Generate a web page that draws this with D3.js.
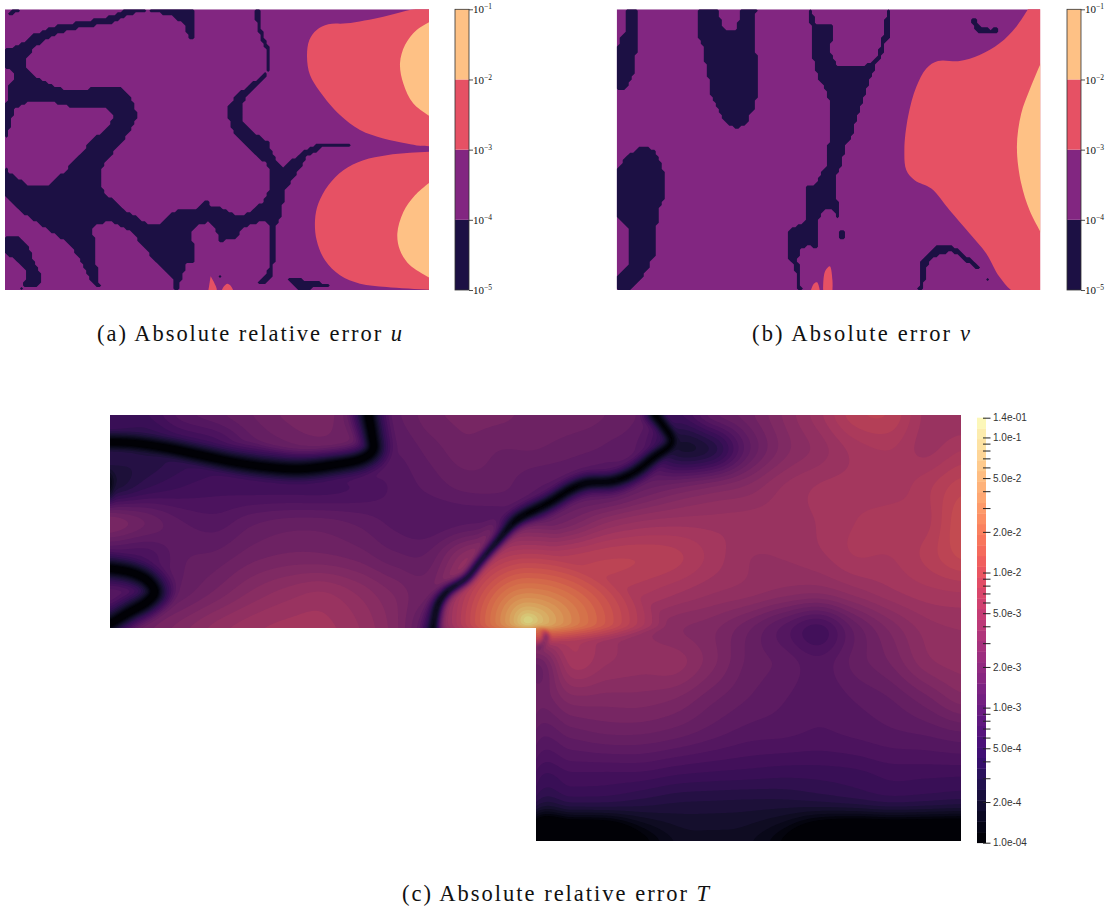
<!DOCTYPE html>
<html><head><meta charset="utf-8">
<style>html,body{margin:0;padding:0;background:#fff}svg{display:block}</style>
<script src="https://cdn.jsdelivr.net/npm/d3@7"></script></head><body>
<svg id="c" width="1117" height="911"></svg>
<script>
// ---------- discrete colour levels for panels (a) and (b)
const levelEdges = [1e-5, 1e-4, 1e-3, 1e-2, 1e-1];
const levelColors = ["#1c1044", "#822681", "#e65164", "#fec185"];
const levelTicks = [-5, -4, -3, -2, -1];

// ---------- panel (a) error-level outlines, in trace units
const aDarkOuter = [[15,145],[50,140],[100,105],[160,80],[250,65],[330,50],[380,30],[440,26],[580,26],[785,26],[785,90],[800,130],[812,170],[805,215],[790,240],[735,290],[722,325],[730,370],[770,405],[805,425],[820,470],[850,505],[900,460],[965,428],[1050,431],[1050,436],[965,442],[920,470],[885,525],[855,570],[838,660],[825,680],[825,780],[812,810],[822,825],[790,852],[765,854],[700,871],[540,871],[320,871],[290,855],[265,830],[240,770],[200,725],[150,690],[100,660],[60,630],[40,610],[13,580],[13,145]];
const aHole1 = [[80,170],[110,135],[170,100],[250,80],[330,70],[370,50],[440,30],[520,50],[555,75],[568,112],[580,112],[580,24],[762,24],[765,45],[775,90],[790,130],[805,170],[800,215],[770,240],[715,280],[685,320],[685,355],[710,410],[760,455],[800,490],[812,520],[812,560],[795,600],[750,640],[710,648],[670,625],[655,618],[640,625],[620,600],[590,625],[530,630],[480,670],[440,672],[360,620],[310,575],[298,520],[320,480],[370,420],[395,385],[412,340],[400,335],[395,290],[360,260],[300,258],[250,270],[190,268],[130,245],[80,210]];
const aHole2 = [[580,680],[625,665],[650,690],[662,730],[680,710],[705,720],[725,685],[790,658],[810,675],[812,800],[790,835],[765,856],[700,875],[540,875],[540,850],[560,785],[580,790],[578,720],[570,722]];
const aHole3 = [[13,425],[30,380],[40,330],[60,315],[100,300],[150,305],[230,322],[320,325],[340,345],[330,375],[295,405],[260,440],[235,470],[195,515],[150,553],[80,553],[30,520],[13,500]];
const aHole4 = [[275,690],[290,668],[340,665],[390,690],[420,725],[460,775],[520,840],[525,855],[510,875],[320,875],[298,850],[285,770],[285,715],[273,710]];
const aHole5 = [[13,200],[40,215],[42,240],[28,250],[28,300],[13,318]];
const aDarkExtra = [
  [[13,52],[45,26],[62,26],[50,36]],
  [[13,708],[50,708],[80,730],[100,780],[118,820],[118,855],[85,855],[55,871],[75,845],[80,815],[50,780],[13,760]],
  [[862,837],[900,838],[935,847],[970,848],[1000,860],[940,855],[925,871],[900,871],[880,855]],
  [[655,820],[668,828],[660,834]]
];
const aRedTop = [[1300,22],[1240,28],[1150,50],[1040,70],[985,73],[950,90],[928,120],[921,170],[930,225],[960,275],[1020,345],[1080,390],[1150,415],[1220,430],[1260,437],[1300,438]];
const aOrangeTop = [[1300,60],[1250,90],[1215,135],[1200,190],[1210,250],[1240,310],[1300,355]];
const aRedLow = [[1300,454],[1230,458],[1160,465],[1090,480],[1030,510],[985,555],[955,610],[945,660],[950,720],[975,780],[1020,825],[1080,850],[1160,860],[1300,869]];
const aOrangeLow = [[1300,538],[1245,585],[1210,635],[1192,700],[1200,750],[1230,795],[1300,838]];
const aRedSpots = [[[632,828],[650,871],[625,871]],[[665,871],[672,858],[682,850],[692,856],[700,871]]];

// ---------- panel (b) error-level outlines, in trace units
const bDark = [
  [[48,26],[82,26],[85,155],[70,170],[70,225],[45,265],[18,265],[18,155],[35,110],[48,100]],
  [[265,26],[328,26],[330,55],[342,90],[375,95],[390,60],[393,26],[440,26],[430,60],[430,155],[442,170],[442,290],[430,300],[430,335],[415,345],[410,370],[385,385],[345,365],[320,320],[305,290],[290,195],[280,185],[278,125],[265,110]],
  [[595,26],[600,55],[610,100],[612,180],[625,235],[650,270],[660,310],[660,430],[650,435],[650,505],[630,525],[620,553],[590,553],[585,555],[585,670],[545,685],[535,700],[535,770],[548,785],[560,815],[566,850],[566,871],[574,871],[572,810],[560,780],[572,745],[595,733],[620,748],[620,665],[640,625],[665,622],[678,640],[688,665],[688,610],[675,600],[675,540],[690,500],[710,430],[725,410],[740,350],[760,300],[775,250],[800,190],[815,170],[828,120],[842,110],[842,26],[834,26],[830,50],[820,110],[805,170],[770,197],[680,197],[660,160],[660,130],[672,125],[672,70],[690,50],[660,78],[620,75],[602,30]],
  [[18,510],[60,460],[100,437],[135,450],[150,490],[160,520],[160,605],[148,615],[148,670],[135,680],[135,770],[120,785],[120,800],[70,860],[60,871],[18,871],[18,830],[58,795],[60,690],[40,670],[18,650]],
  [[1085,55],[1097,58],[1115,86],[1150,88],[1172,80],[1158,97],[1112,98],[1092,80]],
  [[918,871],[932,850],[932,795],[945,768],[990,732],[1032,740],[1112,798],[1106,808],[1030,755],[988,758],[953,790],[948,830],[932,871]],
  [[686,683],[700,692],[702,717],[688,712]],
  [[1122,828],[1138,838],[1130,844]]
];
const bRed = [[1262,15],[1255,28],[1220,80],[1170,130],[1110,165],[1050,183],[985,183],[950,205],[920,260],[895,350],[884,450],[890,510],[915,540],[965,565],[1020,630],[1080,700],[1130,760],[1170,830],[1215,875],[1300,876],[1300,15]];
const bOrange = [[1300,175],[1290,198],[1260,270],[1235,340],[1222,440],[1235,550],[1260,630],[1290,690],[1300,710]];
const bRedSpots = [[[603,871],[612,850],[622,846],[630,871]],[[640,871],[645,815],[660,798],[668,840],[668,871]]];

// ---------- panel (c): log10 of the absolute relative error, 25 columns x 13 rows
const logErrRows = [
 [-3.3,-3.3,-3.1,-3.0,-2.9,-2.8,-2.75,-3.0,-3.0,-2.85,-2.8,-2.8,-2.85,-2.85,-2.9,-3.0,-3.3,-3.0,-2.85,-2.65,-2.45,-2.22,-2.2,-2.45,-2.5],
 [-3.4,-3.5,-3.4,-3.3,-3.05,-2.95,-2.9,-2.9,-3.05,-2.95,-2.85,-2.9,-2.9,-2.95,-3.0,-3.1,-3.6,-3.5,-3.0,-2.7,-2.55,-2.4,-2.35,-2.45,-2.35],
 [-3.6,-3.4,-3.3,-3.25,-3.25,-3.25,-3.25,-3.2,-3.12,-3.03,-2.95,-2.95,-3.05,-3.05,-3.1,-2.95,-2.85,-2.75,-2.65,-2.5,-2.42,-2.4,-2.4,-2.3,-2.15],
 [-2.75,-2.9,-3.05,-3.1,-3.0,-2.95,-2.95,-3.0,-3.08,-3.12,-3.08,-3.05,-2.95,-2.8,-2.6,-2.5,-2.47,-2.47,-2.47,-2.47,-2.42,-2.35,-2.3,-2.3,-2.05],
 [-3.2,-3.2,-3.0,-2.95,-2.85,-2.8,-2.8,-2.85,-2.95,-2.95,-2.6,-2.4,-2.3,-2.25,-2.2,-2.2,-2.25,-2.38,-2.5,-2.5,-2.45,-2.35,-2.35,-2.25,-2.1],
 [-3.1,-3.1,-2.95,-2.8,-2.65,-2.55,-2.5,-2.6,-2.75,-2.85,-2.4,-2.25,-2.2,-2.2,-2.25,-2.33,-2.42,-2.5,-2.55,-2.62,-2.65,-2.55,-2.45,-2.38,-2.35],
 [-2.95,-2.85,-2.7,-2.55,-2.45,-2.4,-2.4,-2.5,-2.7,-3.0,-2.4,-2.2,-2.2,-2.3,-2.45,-2.55,-2.65,-2.72,-2.88,-3.08,-3.25,-2.95,-2.72,-2.55,-2.5],
 [null,null,null,null,null,null,null,null,null,null,null,null,-2.9,-2.4,-2.5,-2.55,-2.55,-2.72,-2.92,-3.0,-3.1,-2.95,-2.82,-2.62,-2.55],
 [null,null,null,null,null,null,null,null,null,null,null,null,-2.85,-2.7,-2.7,-2.7,-2.75,-2.88,-2.98,-3.05,-3.12,-3.05,-2.98,-2.85,-2.7],
 [null,null,null,null,null,null,null,null,null,null,null,null,-3.0,-2.95,-2.9,-2.9,-2.95,-3.03,-3.1,-3.12,-3.15,-3.12,-3.08,-3.05,-3.0],
 [null,null,null,null,null,null,null,null,null,null,null,null,-3.2,-3.2,-3.2,-3.2,-3.25,-3.28,-3.3,-3.32,-3.32,-3.3,-3.25,-3.25,-3.25],
 [null,null,null,null,null,null,null,null,null,null,null,null,-3.5,-3.5,-3.5,-3.52,-3.55,-3.56,-3.57,-3.58,-3.58,-3.55,-3.5,-3.52,-3.55],
 [null,null,null,null,null,null,null,null,null,null,null,null,-4.6,-4.6,-4.5,-4.0,-3.75,-3.72,-3.75,-3.95,-4.4,-4.6,-4.6,-4.6,-4.6]
];
// near-zero error lines in panel (c): core width, fall-off steepness, then the line as [x, y] offsets in the domain
const zeroLineWidths = [3.5, 3, 3.5, 2.2, 1.3];
const zeroLineSteepness = [1.5, 1.6, 1.5, 1.5, 3];
const zeroLines = [
 [[-5,27],[23,28],[57,33],[90,40],[123,47],[157,52],[190,54],[223,50],[253,43],[263,35],[262,20],[258,-2]],
 [[-4,58],[-2,68],[-4,78]],
 [[-5,153],[20,157],[37,165],[45,177],[37,187],[20,197],[-5,212]],
 [[323,215],[328,190],[337,177],[357,163],[370,147],[387,127],[407,105],[440,87],[463,73],[477,68],[503,66],[523,58],[543,43],[562,27],[553,10],[543,-2]],
 [[427,214],[433,215],[436,222],[432,230],[426,233]]
];
const hotSpotCentre = [417, 205];
const hotSpotPeak = -1.0;
// colour bar of panel (c)
const cMajor = [1.4e-1,1e-1,5e-2,2e-2,1e-2,5e-3,2e-3,1e-3,5e-4,2e-4,1e-4];
const cMajorLabels = ["1.4e-01","1.0e-1","5.0e-2","2.0e-2","1.0e-2","5.0e-3","2.0e-3","1.0e-3","5.0e-4","2.0e-4","1.0e-04"];
const cMinor = [9e-2,8e-2,7e-2,6e-2,4e-2,3e-2,9e-3,8e-3,7e-3,6e-3,4e-3,3e-3,9e-4,8e-4,7e-4,6e-4,4e-4,3e-4];
const bandCount = 40;
const captions = ["(a) Absolute relative error ", "(b) Absolute error ", "(c) Absolute relative error "];
const captionVars = ["u", "v", "T"];

// ======================================================
const svg = d3.select("#c");
const defs = svg.append("defs");
function panelScales(x0,x1,r0,r1){
  return {x:d3.scaleLinear([x0,x1],r0), y:d3.scaleLinear([28,869],r1)};
}
function drawLevelPanel(id, box, traceX0, darkTest, smoothShapes, spots){
  const s = panelScales(traceX0, traceX0+1272, [box.x0,box.x1], [box.y0,box.y1]);
  const g = svg.append("g");
  defs.append("clipPath").attr("id",id).append("rect")
    .attr("x",box.x0).attr("y",box.y0).attr("width",box.x1-box.x0).attr("height",box.y1-box.y0);
  const inner = g.append("g").attr("clip-path",`url(#${id})`);
  inner.append("rect").attr("x",box.x0).attr("y",box.y0).attr("width",box.x1-box.x0).attr("height",box.y1-box.y0).attr("fill",levelColors[1]);
  const smooth = d3.line().x(d=>s.x(d[0])).y(d=>s.y(d[1])).curve(d3.curveCatmullRom);
  smoothShapes.forEach(sh=>inner.append("path").attr("d",smooth(sh.pts)+"Z").attr("fill",levelColors[sh.lev]));
  spots.forEach(p=>inner.append("path").attr("d",smooth(p)+"Z").attr("fill",levelColors[2]));
  const nx=141, ny=94, vals=new Float64Array(nx*ny);
  const cx=d3.scaleLinear([0,nx],[box.x0,box.x1]), cy=d3.scaleLinear([0,ny],[box.y0,box.y1]);
  for(let j=0;j<ny;j++)for(let i=0;i<nx;i++){
    let hit=0;
    for(let a=0;a<4;a++)for(let b=0;b<4;b++){
      const p=[s.x.invert(cx(i+(a+.5)/4)), s.y.invert(cy(j+(b+.5)/4))];
      if(darkTest(p)) hit++;
    }
    vals[i+j*nx]=hit>=6?1:0;
  }
  const cont=d3.contours().size([nx,ny]).smooth(false).thresholds([.5])(vals);
  const proj=d3.geoTransform({point(x,y){this.stream.point(cx(x),cy(y));}});
  inner.selectAll("path.dark").data(cont).join("path").attr("class","dark").attr("d",d3.geoPath(proj)).attr("fill",levelColors[0]);
}
function levelBar(x0,x1,y0,y1){
  const y=d3.scaleLog([1e-5,1e-1],[y1,y0]);
  const g=svg.append("g");
  levelColors.forEach((c,i)=>g.append("rect").attr("x",x0).attr("width",x1-x0)
    .attr("y",y(levelEdges[i+1])).attr("height",y(levelEdges[i])-y(levelEdges[i+1])).attr("fill",c));
  g.append("rect").attr("x",x0).attr("y",y0).attr("width",x1-x0).attr("height",y1-y0).attr("fill","none").attr("stroke","#333").attr("stroke-width",.8);
  const ax=d3.axisRight(y).tickValues(levelEdges).tickSize(4).tickPadding(0).tickFormat(()=>"");
  const a=svg.append("g").attr("transform",`translate(${x1},0)`).call(ax);
  a.select(".domain").remove();
  a.selectAll("line").attr("stroke","#222").attr("stroke-width",.8);
  a.selectAll("text").data(levelTicks).each(function(d){
    const t=d3.select(this).attr("font-family","'Liberation Serif'").attr("font-size",11).attr("fill","#111");
    t.append("tspan").text("10");
    t.append("tspan").attr("font-size",7.5).attr("dy",-4).text("\u2212"+(-d));
  });
}
const inAny=(list,p)=>list.some(poly=>d3.polygonContains(poly,p));
drawLevelPanel("clipA",{x0:5,x1:429,y0:9.3,y1:290},15,
  p=>inAny(aDarkExtra,p)||(d3.polygonContains(aDarkOuter,p)&&!inAny([aHole1,aHole2,aHole3,aHole4,aHole5],p)),
  [{pts:aRedTop,lev:2},{pts:aRedLow,lev:2},{pts:aOrangeTop,lev:3},{pts:aOrangeLow,lev:3}],aRedSpots);
levelBar(455,469,9.3,290);
drawLevelPanel("clipB",{x0:616.7,x1:1040.2,y0:9.3,y1:290},20,
  p=>inAny(bDark,p),
  [{pts:bRed,lev:2},{pts:bOrange,lev:3}],bRedSpots);
levelBar(1067,1081,9.3,290);

// ---------- panel (c)
const domW=851, domH=426;
const px=d3.scaleLinear([0,domW],[110,961]), py=d3.scaleLinear([0,domH],[415,841]);
const cols=logErrRows[0].length, rows=logErrRows.length;
const filled=logErrRows.map(r=>r.slice());
for(let j=7;j<rows;j++)for(let i=0;i<cols;i++) if(filled[j][i]===null) filled[j][i]=filled[6][i];
const G=(i,j)=>filled[Math.max(0,Math.min(rows-1,j))][Math.max(0,Math.min(cols-1,i))];
const cr=(a,b,c,d,t)=>.5*(2*b+(c-a)*t+(2*a-5*b+4*c-d)*t*t+(3*b-a-3*c+d)*t*t*t);
function baseAt(x,y){
  const u=x/domW*(cols-1), v=y/domH*(rows-1);
  const i=Math.min(cols-2,Math.floor(u)), j=Math.min(rows-2,Math.floor(v));
  const tu=u-i,tv=v-j,r=[];
  for(let q=-1;q<=2;q++) r.push(cr(G(i-1,j+q),G(i,j+q),G(i+1,j+q),G(i+2,j+q),tu));
  return cr(r[0],r[1],r[2],r[3],tv);
}
const tmp=svg.append("path").attr("fill","none").attr("stroke","none");
const zeroLine=d3.line().curve(d3.curveCatmullRom);
const samples=zeroLines.map(ln=>{
  tmp.attr("d",zeroLine(ln));
  const node=tmp.node(),L=node.getTotalLength(),out=[];
  for(let s=0;s<=L;s+=2){const p=node.getPointAtLength(s);out.push([p.x,p.y]);}
  return out;
});
tmp.remove();
const step=2, nx=Math.ceil(domW/step)+1, ny=Math.ceil(domH/step)+1;
const field=new Float64Array(nx*ny);
for(let j=0;j<ny;j++)for(let i=0;i<nx;i++){
  const x=i*step,y=j*step;
  let v=baseAt(x,y);
  const dx=x-hotSpotCentre[0], dy=y-hotSpotCentre[1];
  const dh=Math.hypot(dx*(dx>0?.6:1),dy*(dy>8?3:1));
  v=Math.max(v,hotSpotPeak-.9*Math.log10(1+dh/8)-(dh/105)**2);
  const vb=v;
  samples.forEach((pts,k)=>{
    if(k===4&&y<212) return;
    let m=Infinity;
    for(const p of pts){const a=p[0]-x,b=p[1]-y;const q=a*a+b*b;if(q<m)m=q;}
    const st=zeroLineSteepness[k]*(1+1.5*Math.max(0,vb+3));
    v=Math.min(v,-4.35+st*Math.log10(1+Math.sqrt(m)/zeroLineWidths[k]));
  });
  field[i+j*nx]=v;
}
d3.blur2({data:field,width:nx,height:ny},.5);
const logMin=-4, logMax=Math.log10(0.14);
const tOf=d3.scaleLinear([logMin,logMax],[0,1]);
const bandColor=i=>d3.interpolateMagma((i+.5)/bandCount);
function fieldColor(i){
  const c=d3.rgb(bandColor(i));
  const f=i/bandCount;
  return d3.rgb(c.r*(.9-.06*f),c.g*.97,c.b*(.72+.12*f)).formatHex();
}
const thresholds=d3.range(1,bandCount).map(i=>tOf.invert(i/bandCount));
const cg=svg.append("g");
defs.append("clipPath").attr("id","clipC").append("path")
  .attr("d",d3.line().x(d=>px(d[0])).y(d=>py(d[1]))([[0,0],[domW,0],[domW,domH],[426,domH],[426,213],[0,213]])+"Z");
const ci=cg.append("g").attr("clip-path","url(#clipC)");
ci.append("rect").attr("x",110).attr("y",415).attr("width",851).attr("height",426).attr("fill",fieldColor(0));
const conts=d3.contours().size([nx,ny]).thresholds(thresholds)(field);
const proj=d3.geoTransform({point(x,y){this.stream.point(px((x-.5)*step),py((y-.5)*step));}});
ci.selectAll("path").data(conts).join("path").attr("d",d3.geoPath(proj))
  .attr("fill",(d,i)=>fieldColor(i+1));

// ---------- colour bar (c)
const yc=d3.scaleLog([1e-4,.14],[842.7,417.7]);
const barG=svg.append("g");
d3.range(bandCount).forEach(i=>{
  const a=10**tOf.invert(i/bandCount), b=10**tOf.invert((i+1)/bandCount);
  barG.append("rect").attr("x",977).attr("width",9).attr("y",yc(b)).attr("height",yc(a)-yc(b)+.4).attr("fill",bandColor(i));
});
const axC=d3.axisRight(yc).tickValues(cMajor.concat(cMinor)).tickSize(7.5).tickPadding(2.5)
  .tickFormat(v=>{const k=cMajor.indexOf(v);return k>=0?cMajorLabels[k]:"";});
const aC=svg.append("g").attr("transform","translate(983,0)").call(axC);
aC.select(".domain").remove();
aC.selectAll("line").attr("stroke","#222").attr("stroke-width",1);
aC.selectAll("text").attr("font-family","'Liberation Sans'").attr("font-size",10).attr("fill","#333");

// ---------- captions
const capPos=[[97,340.5,305],[752,340.5,218],[402,900.5,307]];
captions.forEach((c,i)=>{
  const t=svg.append("text").attr("x",capPos[i][0]).attr("y",capPos[i][1])
    .attr("font-family","'Liberation Serif'").attr("font-size",22.5).attr("fill","#111")
    .attr("textLength",capPos[i][2]).attr("lengthAdjust","spacing");
  t.append("tspan").text(c);
  t.append("tspan").attr("font-style","italic").text(captionVars[i]);
});
</script></body></html>
